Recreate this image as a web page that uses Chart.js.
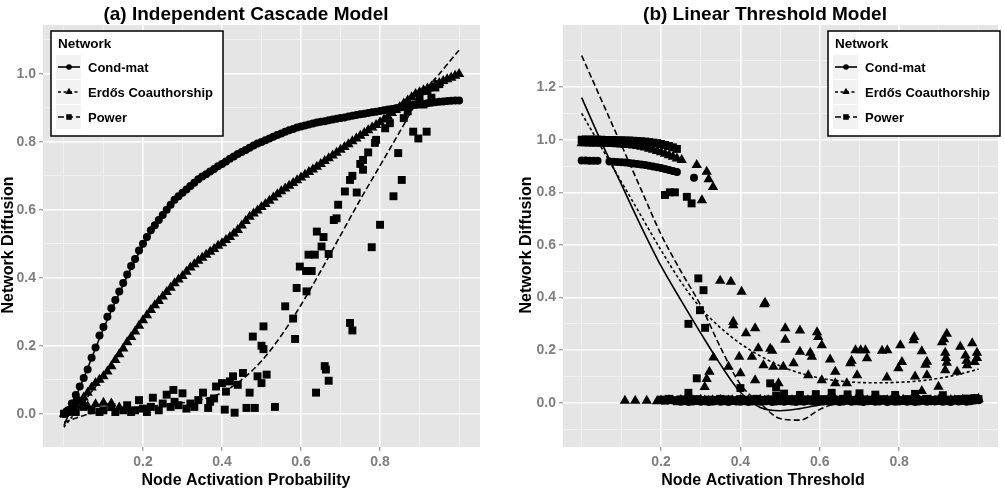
<!DOCTYPE html>
<html lang="en">
<head>
<meta charset="UTF-8" />
<title>Network Diffusion - IC and LT models</title>
<style>
    body { margin: 0; background: #fff; }
    .panel { position: absolute; top: 0; }
    #icChart { left: 0; }
    #ltChart { left: 502px; }
</style>
</head>
<body>
<canvas id="icChart" class="panel" width="502" height="488"></canvas>
<canvas id="ltChart" class="panel" width="502" height="488"></canvas>

<script src="https://cdn.jsdelivr.net/npm/chart.js"></script>
<script>
    const FONT = '"Liberation Sans", Arial, Helvetica, sans-serif';

    const seriesNames = ["Cond-mat", "Erdős Coauthorship", "Power"];
    const markerStyles = ["circle", "triangle", "rect"];
    const markerSizes = [4, 6, 5.6];
    const lineDashes = [[], [3, 2.5], [6, 3]];

    // ---- (a) Independent Cascade ----
    const probGrid = [
        0.00, 0.01, 0.02, 0.03, 0.04, 0.05, 0.06, 0.07, 0.08, 0.09,
        0.10, 0.11, 0.12, 0.13, 0.14, 0.15, 0.16, 0.17, 0.18, 0.19,
        0.20, 0.21, 0.22, 0.23, 0.24, 0.25, 0.26, 0.27, 0.28, 0.29,
        0.30, 0.31, 0.32, 0.33, 0.34, 0.35, 0.36, 0.37, 0.38, 0.39,
        0.40, 0.41, 0.42, 0.43, 0.44, 0.45, 0.46, 0.47, 0.48, 0.49,
        0.50, 0.51, 0.52, 0.53, 0.54, 0.55, 0.56, 0.57, 0.58, 0.59,
        0.60, 0.61, 0.62, 0.63, 0.64, 0.65, 0.66, 0.67, 0.68, 0.69,
        0.70, 0.71, 0.72, 0.73, 0.74, 0.75, 0.76, 0.77, 0.78, 0.79,
        0.80, 0.81, 0.82, 0.83, 0.84, 0.85, 0.86, 0.87, 0.88, 0.89,
        0.90, 0.91, 0.92, 0.93, 0.94, 0.95, 0.96, 0.97, 0.98, 0.99,
        1.00
    ];
    const icCondmat = [
        0.000, 0.010, 0.030, 0.055, 0.080, 0.105, 0.130, 0.165, 0.195, 0.230,
        0.255, 0.285, 0.310, 0.335, 0.360, 0.385, 0.410, 0.435, 0.455, 0.480,
        0.500, 0.520, 0.540, 0.555, 0.570, 0.585, 0.600, 0.615, 0.630, 0.640,
        0.650, 0.660, 0.670, 0.680, 0.690, 0.698, 0.705, 0.713, 0.720, 0.728,
        0.735, 0.742, 0.750, 0.757, 0.764, 0.770, 0.776, 0.783, 0.789, 0.795,
        0.800, 0.805, 0.810, 0.815, 0.820, 0.825, 0.830, 0.834, 0.838, 0.842,
        0.845, 0.848, 0.851, 0.854, 0.857, 0.859, 0.861, 0.864, 0.866, 0.868,
        0.870, 0.872, 0.875, 0.877, 0.879, 0.881, 0.883, 0.885, 0.887, 0.889,
        0.891, 0.893, 0.895, 0.897, 0.899, 0.901, 0.903, 0.905, 0.907, 0.909,
        0.911, 0.912, 0.914, 0.915, 0.917, 0.918, 0.919, 0.920, 0.921, 0.922,
        0.922
    ];
    const icErdos = [
        0.000, 0.005, 0.015, 0.025, 0.035, 0.048, 0.062, 0.077, 0.090, 0.100,
        0.110, 0.124, 0.140, 0.158, 0.175, 0.192, 0.210, 0.226, 0.242, 0.259,
        0.275, 0.290, 0.305, 0.319, 0.332, 0.345, 0.358, 0.371, 0.384, 0.395,
        0.405, 0.418, 0.430, 0.440, 0.450, 0.459, 0.468, 0.477, 0.485, 0.494,
        0.502, 0.511, 0.520, 0.530, 0.541, 0.554, 0.567, 0.580, 0.589, 0.598,
        0.608, 0.617, 0.627, 0.636, 0.646, 0.655, 0.663, 0.671, 0.679, 0.687,
        0.695, 0.703, 0.711, 0.719, 0.727, 0.735, 0.744, 0.752, 0.760, 0.768,
        0.777, 0.785, 0.793, 0.802, 0.810, 0.818, 0.826, 0.834, 0.842, 0.850,
        0.858, 0.866, 0.875, 0.885, 0.894, 0.903, 0.913, 0.922, 0.931, 0.941,
        0.946, 0.952, 0.957, 0.963, 0.968, 0.973, 0.979, 0.984, 0.989, 0.995,
        1.000
    ];
    const icErdosLow = [
        [0.03, 0.040], [0.05, 0.030], [0.06, 0.022], [0.08, 0.028],
        [0.10, 0.032], [0.12, 0.030], [0.14, 0.018], [0.16, 0.012]
    ];
    const icPower = [
        [0.00, 0.000], [0.01, 0.005], [0.02, 0.010], [0.03, 0.005], [0.05, 0.020],
        [0.07, 0.010], [0.09, 0.005], [0.10, 0.010], [0.12, 0.020], [0.13, 0.005],
        [0.15, 0.010], [0.16, 0.025], [0.17, 0.005], [0.18, 0.010], [0.19, 0.040],
        [0.20, 0.015], [0.21, 0.005], [0.22, 0.020], [0.225, 0.047], [0.24, 0.010],
        [0.25, 0.030], [0.26, 0.056], [0.27, 0.020], [0.277, 0.070], [0.28, 0.035],
        [0.29, 0.025], [0.30, 0.060], [0.31, 0.015], [0.32, 0.030], [0.33, 0.020],
        [0.34, 0.040], [0.352, 0.062], [0.365, 0.017], [0.37, 0.035], [0.38, 0.045],
        [0.385, 0.080], [0.40, 0.090], [0.407, 0.012], [0.41, 0.065], [0.42, 0.095],
        [0.428, 0.110], [0.432, 0.003], [0.44, 0.085], [0.453, 0.120], [0.462, 0.017],
        [0.47, 0.062], [0.478, 0.227], [0.483, 0.017], [0.49, 0.110], [0.50, 0.090],
        [0.50, 0.200], [0.505, 0.190], [0.505, 0.257], [0.513, 0.115], [0.534, 0.020],
        [0.56, 0.316], [0.58, 0.280], [0.585, 0.220], [0.589, 0.370], [0.597, 0.433],
        [0.614, 0.360], [0.613, 0.420], [0.619, 0.468], [0.627, 0.420], [0.635, 0.468],
        [0.638, 0.062], [0.64, 0.536], [0.652, 0.492], [0.657, 0.520], [0.66, 0.140],
        [0.663, 0.130], [0.67, 0.097], [0.67, 0.470], [0.683, 0.570], [0.69, 0.575],
        [0.694, 0.615], [0.711, 0.654], [0.724, 0.688], [0.724, 0.267], [0.73, 0.700],
        [0.73, 0.245], [0.741, 0.651], [0.75, 0.735], [0.757, 0.718], [0.757, 0.747],
        [0.77, 0.769], [0.779, 0.490], [0.787, 0.797], [0.79, 0.806], [0.80, 0.556],
        [0.813, 0.840], [0.825, 0.855], [0.834, 0.640], [0.846, 0.767], [0.855, 0.688],
        [0.86, 0.870], [0.87, 0.890], [0.884, 0.830], [0.89, 0.910], [0.897, 0.810],
        [0.90, 0.930], [0.91, 0.910], [0.918, 0.830], [0.92, 0.950], [0.93, 0.930],
        [0.94, 0.960], [0.95, 0.970]
    ];
    const icFitX = [0.00, 0.05, 0.10, 0.15, 0.20, 0.25, 0.30, 0.35, 0.40, 0.45, 0.50,
                    0.55, 0.60, 0.65, 0.70, 0.75, 0.80, 0.85, 0.90, 0.95, 1.00];
    const icCondFit = [-0.035, 0.105, 0.250, 0.380, 0.495, 0.583, 0.650, 0.697, 0.735, 0.770, 0.800,
                       0.825, 0.845, 0.859, 0.870, 0.881, 0.891, 0.901, 0.911, 0.918, 0.922];
    const icErdosFit = [-0.040, 0.035, 0.110, 0.192, 0.275, 0.345, 0.405, 0.459, 0.502, 0.554, 0.608,
                        0.655, 0.695, 0.735, 0.777, 0.818, 0.858, 0.903, 0.946, 0.973, 1.000];
    const icPowerFit = [-0.025, -0.005, 0.008, 0.015, 0.020, 0.025, 0.032, 0.042, 0.062, 0.100, 0.155,
                        0.230, 0.320, 0.420, 0.525, 0.630, 0.730, 0.830, 0.930, 1.000, 1.070];

    // ---- (b) Linear Threshold ----
    const ltCondTop = [
        [0.00, 0.921], [0.01, 0.921], [0.02, 0.920], [0.03, 0.920], [0.04, 0.920],
        [0.07, 0.917], [0.08, 0.916], [0.09, 0.915], [0.10, 0.914], [0.11, 0.913],
        [0.12, 0.911], [0.13, 0.910], [0.14, 0.908], [0.15, 0.906], [0.16, 0.904],
        [0.17, 0.901], [0.18, 0.898], [0.19, 0.895], [0.20, 0.892], [0.21, 0.889],
        [0.22, 0.885], [0.23, 0.881], [0.24, 0.877], [0.283, 0.855]
    ];
    const ltErdosTop = [
        [0.00, 0.987], [0.01, 0.987], [0.02, 0.986], [0.03, 0.986], [0.04, 0.986],
        [0.05, 0.985], [0.06, 0.985], [0.07, 0.984], [0.08, 0.984], [0.09, 0.983],
        [0.10, 0.982], [0.11, 0.981], [0.12, 0.980], [0.13, 0.978], [0.14, 0.976],
        [0.15, 0.973], [0.16, 0.970], [0.17, 0.966], [0.18, 0.962], [0.19, 0.957],
        [0.20, 0.952], [0.21, 0.947], [0.22, 0.941], [0.23, 0.935], [0.24, 0.929],
        [0.252, 0.923], [0.29, 0.904], [0.303, 0.770], [0.315, 0.878], [0.32, 0.850],
        [0.331, 0.820]
    ];
    const ltPowerTop = [
        [0.00, 1.000], [0.01, 1.001], [0.02, 1.000], [0.03, 1.001], [0.04, 1.000],
        [0.05, 1.000], [0.06, 0.999], [0.07, 0.999], [0.08, 0.999], [0.09, 0.998],
        [0.10, 0.998], [0.11, 0.997], [0.12, 0.997], [0.13, 0.996], [0.14, 0.995],
        [0.15, 0.994], [0.16, 0.993], [0.17, 0.991], [0.18, 0.989], [0.19, 0.987],
        [0.20, 0.984], [0.21, 0.980], [0.22, 0.976], [0.23, 0.971], [0.24, 0.965],
        [0.21, 0.790], [0.222, 0.800], [0.235, 0.800], [0.265, 0.783], [0.277, 0.758]
    ];
    const ltErdosMid = [
        [0.109, 0.008], [0.135, 0.008], [0.164, 0.008],
        [0.31, 0.060], [0.315, 0.090], [0.322, 0.118], [0.332, 0.172], [0.349, 0.464],
        [0.37, 0.137], [0.376, 0.460], [0.382, 0.308], [0.382, 0.295], [0.397, 0.175],
        [0.40, 0.112], [0.403, 0.422], [0.414, 0.264], [0.429, 0.175], [0.437, 0.283],
        [0.437, 0.086], [0.445, 0.207], [0.458, 0.143], [0.46, 0.375], [0.462, 0.380],
        [0.475, 0.205], [0.48, 0.198], [0.483, 0.137], [0.496, 0.074], [0.508, 0.137],
        [0.513, 0.283], [0.513, 0.240], [0.534, 0.150], [0.55, 0.275], [0.55, 0.194],
        [0.571, 0.105], [0.576, 0.190], [0.58, 0.175], [0.593, 0.268], [0.596, 0.250],
        [0.605, 0.219], [0.605, 0.086], [0.626, 0.165], [0.639, 0.118], [0.639, 0.074],
        [0.668, 0.074], [0.677, 0.150], [0.68, 0.160], [0.69, 0.200], [0.694, 0.105],
        [0.703, 0.200], [0.715, 0.200], [0.719, 0.169], [0.757, 0.198], [0.77, 0.200],
        [0.769, 0.096], [0.798, 0.131], [0.803, 0.219], [0.807, 0.155], [0.836, 0.238],
        [0.838, 0.250], [0.84, 0.100], [0.857, 0.196], [0.857, 0.045], [0.866, 0.145],
        [0.87, 0.156], [0.87, 0.105], [0.899, 0.061], [0.908, 0.230], [0.913, 0.242],
        [0.92, 0.262], [0.916, 0.190], [0.918, 0.170], [0.92, 0.152], [0.916, 0.124],
        [0.946, 0.118], [0.954, 0.213], [0.967, 0.180], [0.97, 0.160], [0.971, 0.143],
        [0.984, 0.226], [0.996, 0.190], [0.996, 0.170], [0.99, 0.155]
    ];
    const ltPowerMid = [
        [0.294, 0.473], [0.307, 0.428], [0.298, 0.352], [0.269, 0.300], [0.311, 0.285],
        [0.29, 0.093], [0.269, 0.038], [0.40, 0.056], [0.475, 0.074], [0.49, 0.060]
    ];
    const ltZeroGrid = [
        0.19, 0.20, 0.21, 0.22, 0.23, 0.24, 0.25, 0.26, 0.27, 0.28,
        0.29, 0.30, 0.31, 0.32, 0.33, 0.34, 0.35, 0.36, 0.37, 0.38,
        0.39, 0.40, 0.41, 0.42, 0.43, 0.44, 0.45, 0.46, 0.47, 0.48,
        0.49, 0.50, 0.51, 0.52, 0.53, 0.54, 0.55, 0.56, 0.57, 0.58,
        0.59, 0.60, 0.61, 0.62, 0.63, 0.64, 0.65, 0.66, 0.67, 0.68,
        0.69, 0.70, 0.71, 0.72, 0.73, 0.74, 0.75, 0.76, 0.77, 0.78,
        0.79, 0.80, 0.81, 0.82, 0.83, 0.84, 0.85, 0.86, 0.87, 0.88,
        0.89, 0.90, 0.91, 0.92, 0.93, 0.94, 0.95, 0.96, 0.97, 0.98,
        0.99, 1.00
    ];
    const ltErdosZero = [
        0.006, 0.009, 0.007, 0.010, 0.008, 0.006, 0.011, 0.009, 0.007, 0.010,
        0.008, 0.012, 0.009, 0.007, 0.010, 0.008, 0.011, 0.006, 0.009, 0.010,
        0.007, 0.011, 0.008, 0.010, 0.006, 0.009, 0.012, 0.008, 0.010, 0.007,
        0.009, 0.011, 0.008, 0.006, 0.010, 0.009, 0.012, 0.007, 0.010, 0.008,
        0.011, 0.009, 0.007, 0.010, 0.008, 0.012, 0.009, 0.006, 0.010, 0.008,
        0.011, 0.007, 0.009, 0.010, 0.008, 0.012, 0.009, 0.007, 0.010, 0.011,
        0.008, 0.009, 0.012, 0.007, 0.010, 0.008, 0.011, 0.009, 0.006, 0.010,
        0.008, 0.012, 0.009, 0.007, 0.011, 0.010, 0.008, 0.012, 0.009, 0.010,
        0.013, 0.015
    ];
    const ltPowerZero = [
        null,  0.012, 0.008, 0.015, 0.010, 0.006, 0.013, 0.009, 0.011, 0.007,
        0.014, 0.010, 0.008, 0.012, 0.006, 0.011, 0.015, 0.009, 0.013, 0.007,
        0.010, 0.014, 0.008, 0.012, 0.009, 0.015, 0.011, 0.006, 0.013, 0.010,
        0.028, 0.012, 0.035, 0.009, 0.014, 0.010, 0.030, 0.008, 0.013, 0.011,
        0.033, 0.010, 0.014, 0.008, 0.038, 0.012, 0.009, 0.015, 0.032, 0.011,
        0.010, 0.036, 0.013, 0.008, 0.012, 0.031, 0.010, 0.014, 0.009, 0.012,
        0.030, 0.011, 0.008, 0.014, 0.010, 0.034, 0.012, 0.009, 0.015, 0.011,
        0.010, 0.013, 0.029, 0.008, 0.012, 0.010, 0.014, 0.009, 0.016, 0.013,
        0.018, 0.014
    ];
    const ltCondZero = [
        null,  null,  null,  null,  null,  null,  0.004, 0.006, 0.003, 0.005,
        0.007, 0.004, 0.006, 0.003, 0.005, 0.008, 0.004, 0.006, 0.003, 0.007,
        0.005, 0.004, 0.006, 0.003, 0.005, 0.007, 0.004, 0.006, 0.008, 0.003,
        0.005, 0.006, 0.004, 0.007, 0.005, 0.003, 0.006, 0.004, 0.008, 0.005,
        0.003, 0.006, 0.005, 0.007, 0.004, 0.006, 0.003, 0.005, 0.008, 0.004,
        0.006, 0.005, 0.003, 0.006, 0.007, 0.004, 0.005, 0.008, 0.003, 0.006,
        0.004, 0.005, 0.007, 0.004, 0.006, 0.003, 0.005, 0.008, 0.004, 0.006,
        0.005, 0.007, 0.004, 0.006, 0.003, 0.008, 0.005, 0.007, 0.004, 0.006,
        0.009, 0.010
    ];
    const ltFitX = [0.00, 0.05, 0.10, 0.15, 0.20, 0.25, 0.30, 0.35, 0.40, 0.45, 0.50,
                    0.55, 0.60, 0.65, 0.70, 0.75, 0.80, 0.85, 0.90, 0.95, 1.00];
    const ltCondFit = [1.160, 0.990, 0.830, 0.670, 0.520, 0.390, 0.265, 0.145, 0.040, -0.018, -0.030,
                       -0.022, -0.008, 0.003, 0.008, 0.010, 0.010, 0.010, 0.010, 0.010, 0.010];
    const ltErdosFit = [1.100, 0.970, 0.840, 0.710, 0.580, 0.460, 0.360, 0.285, 0.225, 0.178, 0.140,
                        0.113, 0.094, 0.083, 0.077, 0.076, 0.078, 0.083, 0.093, 0.108, 0.128];
    const ltPowerFit = [1.320, 1.150, 0.980, 0.810, 0.640, 0.500, 0.370, 0.210, 0.070, -0.002, -0.060,
                        -0.066, -0.025, 0.002, 0.010, 0.010, 0.010, 0.010, 0.010, 0.010, 0.010];

    // axis breaks
    const xMajor = [0.2, 0.4, 0.6, 0.8];
    const xMinor = [0.0, 0.1, 0.3, 0.5, 0.7, 0.9, 1.0];
    const icYMajor = [0.0, 0.2, 0.4, 0.6, 0.8, 1.0];
    const icYMinor = [0.1, 0.3, 0.5, 0.7, 0.9, 1.1];
    const ltYMajor = [0.0, 0.2, 0.4, 0.6, 0.8, 1.0, 1.2];
    const ltYMinor = [-0.1, 0.1, 0.3, 0.5, 0.7, 0.9, 1.1, 1.3];

    function fromGrid(xs, ys) {
        return xs.map((x, i) => ({ x: x, y: ys[i] })).filter(p => p.y !== null);
    }
    function fromPairs(pairs) {
        return pairs.map(p => ({ x: p[0], y: p[1] }));
    }
    function points(i, data) {
        return {
            label: seriesNames[i],
            data: data,
            showLine: false,
            pointStyle: markerStyles[i],
            pointRadius: markerSizes[i],
            pointBackgroundColor: "#000",
            pointBorderWidth: 0,
            order: 2
        };
    }
    function fit(i, xs, ys) {
        return {
            label: seriesNames[i] + " fit",
            data: fromGrid(xs, ys),
            showLine: true,
            pointRadius: 0,
            borderColor: "#000",
            borderWidth: 1.6,
            borderDash: lineDashes[i],
            cubicInterpolationMode: "monotone",
            order: 1
        };
    }

    function axis(min, max, majors, minors, fitSize, horizontal) {
        const all = majors.map(v => ({ value: v, isMajor: true }))
            .concat(minors.map(v => ({ value: v, isMajor: false })))
            .sort((a, b) => a.value - b.value);
        return {
            type: "linear",
            min: min,
            max: max,
            afterBuildTicks: s => { s.ticks = all.map(t => ({ value: t.value, isMajor: t.isMajor })); },
            afterFit: s => { if (horizontal) s.height = fitSize; else s.width = fitSize; },
            border: { display: false },
            grid: {
                color: c => (c.tick && c.tick.isMajor) ? "#FFFFFF" : "#F2F2F2",
                lineWidth: c => (c.tick && c.tick.isMajor) ? 1.6 : 0.8,
                tickLength: 4,
                tickWidth: 1,
                tickColor: c => (c.tick && c.tick.isMajor) ? "#7F7F7F" : "rgba(0,0,0,0)"
            },
            ticks: {
                autoSkip: false,
                maxRotation: 0,
                padding: 3,
                color: "#7F7F7F",
                font: { family: FONT, size: 14, weight: "bold" },
                callback: (v, i, ticks) => ticks[i].isMajor ? v.toFixed(1) : ""
            }
        };
    }

    function drawMarker(ctx, style, x, y, r) {
        ctx.beginPath();
        if (style === "circle") {
            ctx.arc(x, y, r, 0, Math.PI * 2);
        } else if (style === "triangle") {
            ctx.moveTo(x, y - r);
            ctx.lineTo(x + r * 0.866, y + r * 0.5);
            ctx.lineTo(x - r * 0.866, y + r * 0.5);
            ctx.closePath();
        } else {
            ctx.rect(x - r * 0.7071, y - r * 0.7071, r * 1.4142, r * 1.4142);
        }
        ctx.fill();
    }

    const panelDecor = {
        id: "panelDecor",
        beforeDraw(chart) {
            const { ctx, chartArea: a } = chart;
            ctx.save();
            ctx.fillStyle = "#E5E5E5";
            ctx.fillRect(a.left, a.top, a.right - a.left, a.bottom - a.top);
            ctx.restore();
        },
        afterDraw(chart, args, o) {
            const ctx = chart.ctx;
            ctx.save();
            ctx.fillStyle = "#000";
            ctx.textAlign = "center";
            ctx.textBaseline = "alphabetic";

            ctx.font = "bold 19px " + FONT;
            ctx.fillText(o.title, o.titleX, 20);

            ctx.font = "bold 16px " + FONT;
            ctx.fillText(o.xTitle, o.xTitleX, 485);

            ctx.save();
            ctx.translate(o.yTitleX, 245);
            ctx.rotate(-Math.PI / 2);
            ctx.fillText("Network Diffusion", 0, 0);
            ctx.restore();

            // legend box
            const bx = o.legendX, by = 31, bw = 172, bh = 105;
            ctx.fillStyle = "#FFFFFF";
            ctx.fillRect(bx, by, bw, bh);
            ctx.strokeStyle = "#000";
            ctx.lineWidth = 1.5;
            ctx.strokeRect(bx, by, bw, bh);

            ctx.textAlign = "left";
            ctx.textBaseline = "middle";
            ctx.fillStyle = "#000";
            ctx.font = "bold 13.5px " + FONT;
            ctx.fillText("Network", bx + 7, by + 13);

            ctx.font = "bold 13px " + FONT;
            seriesNames.forEach((name, i) => {
                const cy = by + 36 + i * 25;
                ctx.fillStyle = "#F2F2F2";
                ctx.fillRect(bx + 5, cy - 12, 25, 24);
                ctx.strokeStyle = "#000";
                ctx.lineWidth = 1.6;
                ctx.setLineDash(lineDashes[i]);
                ctx.beginPath();
                ctx.moveTo(bx + 7, cy);
                ctx.lineTo(bx + 29, cy);
                ctx.stroke();
                ctx.setLineDash([]);
                ctx.fillStyle = "#000";
                drawMarker(ctx, markerStyles[i], bx + 18, cy, markerSizes[i] * 0.7);
                ctx.fillText(name, bx + 37, cy + 1);
            });
            ctx.restore();
        }
    };

    function baseOptions(xScale, yScale, padding, decor) {
        return {
            responsive: false,
            animation: false,
            events: [],
            devicePixelRatio: 1,
            layout: { padding: padding },
            scales: { x: xScale, y: yScale },
            plugins: {
                legend: { display: false },
                tooltip: { enabled: false },
                panelDecor: decor
            }
        };
    }

    new Chart(document.getElementById("icChart"), {
        type: "scatter",
        data: {
            datasets: [
                fit(0, icFitX, icCondFit),
                fit(1, icFitX, icErdosFit),
                fit(2, icFitX, icPowerFit),
                points(0, fromGrid(probGrid, icCondmat)),
                points(1, fromGrid(probGrid, icErdos).concat(fromPairs(icErdosLow))),
                points(2, fromPairs(icPower))
            ]
        },
        options: baseOptions(
            axis(-0.053, 1.053, xMajor, xMinor, 41, true),
            axis(-0.098, 1.144, icYMajor, icYMinor, 43, false),
            { left: 0, right: 22, top: 25, bottom: 0 },
            { title: "(a) Independent Cascade Model", titleX: 246, xTitle: "Node Activation Probability",
              xTitleX: 246, yTitleX: 13, legendX: 51 }
        ),
        plugins: [panelDecor]
    });

    new Chart(document.getElementById("ltChart"), {
        type: "scatter",
        data: {
            datasets: [
                fit(0, ltFitX, ltCondFit),
                fit(1, ltFitX, ltErdosFit),
                fit(2, ltFitX, ltPowerFit),
                points(0, fromPairs(ltCondTop).concat(fromGrid(ltZeroGrid, ltCondZero))),
                points(1, fromPairs(ltErdosTop).concat(fromPairs(ltErdosMid), fromGrid(ltZeroGrid, ltErdosZero))),
                points(2, fromPairs(ltPowerTop).concat(fromPairs(ltPowerMid), fromGrid(ltZeroGrid, ltPowerZero)))
            ]
        },
        options: baseOptions(
            axis(-0.047, 1.049, xMajor, xMinor, 41, true),
            axis(-0.168, 1.436, ltYMajor, ltYMinor, 61, false),
            { left: 0, right: 6, top: 25, bottom: 0 },
            { title: "(b) Linear Threshold Model", titleX: 263, xTitle: "Node Activation Threshold",
              xTitleX: 261, yTitleX: 29, legendX: 326 }
        ),
        plugins: [panelDecor]
    });
</script>
</body>
</html>
